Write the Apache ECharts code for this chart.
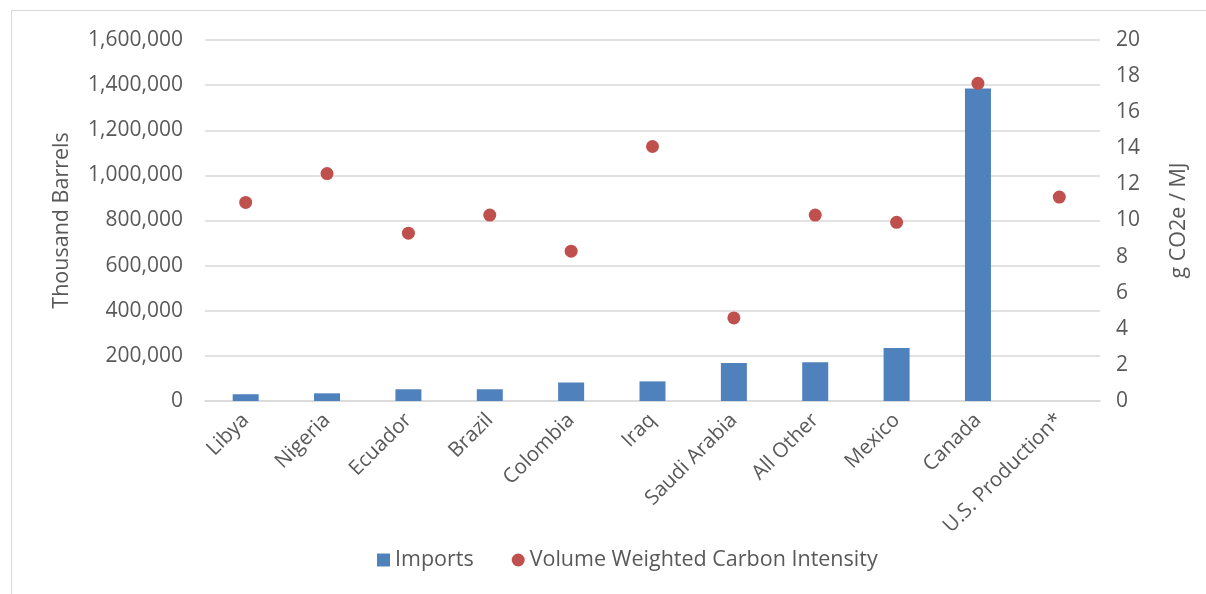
<!DOCTYPE html>
<html><head><meta charset="utf-8">
<script src="https://cdn.jsdelivr.net/npm/echarts@6/dist/echarts.min.js"></script>
<style>html,body{margin:0;padding:0;background:#fff;}#c{width:1206px;height:594px;}
#frame{position:absolute;left:11px;top:10px;width:1220px;height:600px;border:1px solid #d9d9d9;pointer-events:none;}</style>
</head><body><div id="c"></div><div id="frame"></div>
<script>
const categories = ['Libya','Nigeria','Ecuador','Brazil','Colombia','Iraq','Saudi Arabia','All Other','Mexico','Canada','U.S. Production*'];
const imports = [30000, 34000, 52000, 52000, 82000, 87000, 168000, 172000, 235000, 1385000, null];
const carbonIntensity = [11.0, 12.6, 9.3, 10.3, 8.3, 14.1, 4.6, 10.3, 9.9, 17.6, 11.3];
const leftTicks = {min:0, max:1600000, interval:200000};
const rightTicks = {min:0, max:20, interval:2};

const FONT = '"Open Sans", "Noto Sans", sans-serif';
const txt = '#595959';
const chart = echarts.init(document.getElementById('c'), null, {renderer:'canvas'});
chart.setOption({
  animation:false,
  textStyle:{fontFamily:FONT},
  grid:{left:205, right:106, top:40, bottom:193, containLabel:false},
  legend:{
    bottom:18, left:372, itemGap:38, itemWidth:13, itemHeight:13,
    textStyle:{fontFamily:FONT, fontSize:21.5, color:txt},
    data:[{name:'Imports', icon:'rect'},{name:'Volume Weighted Carbon Intensity', icon:'circle'}]
  },
  xAxis:{
    type:'category', data:categories,
    axisLine:{lineStyle:{color:'#d9d9d9', width:1.5}},
    axisTick:{show:false},
    axisLabel:{rotate:45, fontFamily:FONT, fontSize:20.5, color:txt, margin:16, interval:0}
  },
  yAxis:[{
    type:'value', min:leftTicks.min, max:leftTicks.max, interval:leftTicks.interval,
    name:'Thousand Barrels', nameLocation:'middle', nameGap:132, nameRotate:90,
    nameTextStyle:{fontFamily:FONT, fontSize:21.5, color:txt},
    axisLine:{show:false}, axisTick:{show:false},
    axisLabel:{fontFamily:FONT, fontSize:21, color:txt, margin:22,
      formatter:v=>v.toLocaleString('en-US')},
    splitLine:{lineStyle:{color:'#d9d9d9', width:1.5}}
  },{
    type:'value', min:rightTicks.min, max:rightTicks.max, interval:rightTicks.interval,
    name:'g CO2e / MJ', nameLocation:'middle', nameGap:68, nameRotate:90,
    nameTextStyle:{fontFamily:FONT, fontSize:21.5, color:txt},
    axisLine:{show:false}, axisTick:{show:false},
    axisLabel:{fontFamily:FONT, fontSize:21, color:txt, margin:16},
    splitLine:{show:false}
  }],
  series:[{
    name:'Imports', type:'bar', data:imports, barWidth:26, yAxisIndex:0,
    itemStyle:{color:'#4f81bd'}
  },{
    name:'Volume Weighted Carbon Intensity', type:'scatter', data:carbonIntensity, yAxisIndex:1,
    symbol:'circle', symbolSize:13, itemStyle:{color:'#c0504d', opacity:1}
  }]
});
</script></body></html>
